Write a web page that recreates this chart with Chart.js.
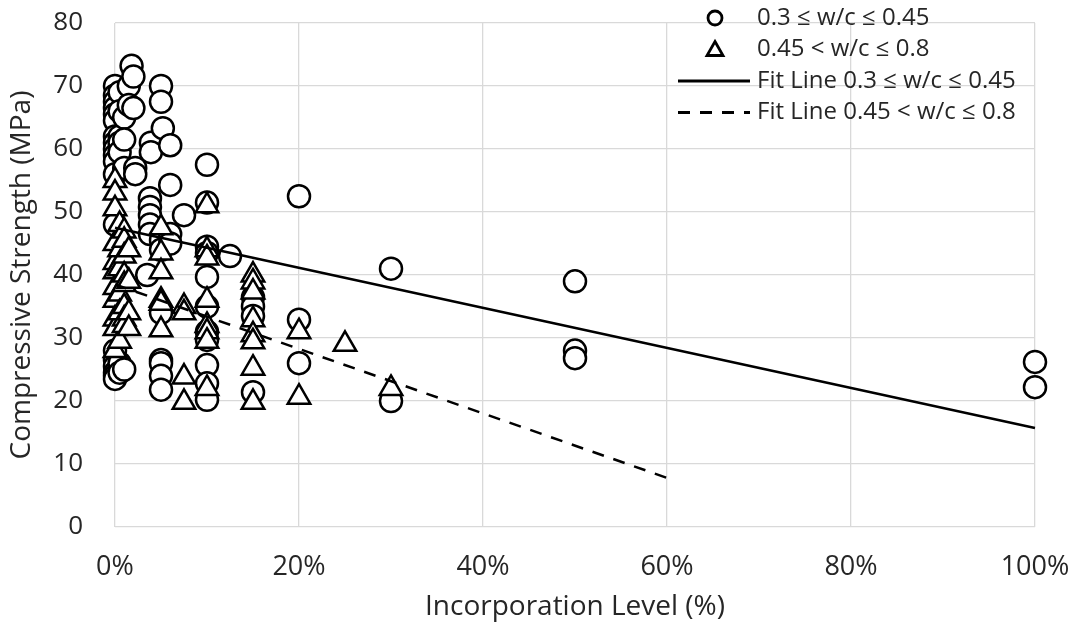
<!DOCTYPE html>
<html>
<head>
<meta charset="utf-8">
<script src="https://cdn.jsdelivr.net/npm/chart.js@4"></script>
<style>
  html, body { margin: 0; padding: 0; background: #fff; }
  #wrap { width: 1081px; height: 630px; }
</style>
</head>
<body>
<div id="wrap"><canvas id="chart"></canvas></div>
<script>
// circles: 0.3 <= w/c <= 0.45
const circleX = [
  0, 0, 0, 0, 0, 0, 0, 0, 0, 0, 0, 0, 0, 0, 0, 0, 0, 0, 0,
  0.5, 0.5, 0.5, 0.5, 0.5, 0.5, 0.5,
  1, 1, 1, 1,
  1.5, 1.5,
  1.8, 2, 2, 2.2, 2.2,
  3.9, 3.9, 3.8, 3.8, 3.8, 3.8, 3.8, 3.5,
  5, 5, 5.2, 5, 5, 5, 5, 5, 5, 5,
  6, 6, 6, 6,
  7.5,
  10, 10, 10, 10, 10, 10, 10, 10, 10, 10, 10,
  12.5,
  15, 15, 15, 15,
  20, 20, 20,
  30, 30,
  50, 50, 50,
  100, 100
];
const circleY = [
  70, 68.5, 67.5, 66.5, 65.5, 64.5, 62, 61, 60, 59, 58, 56, 48, 28, 26.5, 25.5, 24.5, 24, 23.5,
  69, 66, 62, 61, 59.5, 26, 24.5,
  65, 61.5, 57, 25,
  70, 67,
  73.2, 71.5, 66.5, 57, 56,
  61, 59.5, 52.2, 50.8, 49.5, 48, 46.5, 40,
  70, 67.5, 63.3, 45.5, 44, 34, 26.5, 26, 24, 21.8,
  60.6, 54.3, 46.5, 45,
  49.5,
  57.5, 51.5, 44.5, 43.5, 39.7, 35, 31, 29.7, 25.7, 22.8, 20.2,
  43,
  36.5, 35, 33.5, 21.4,
  52.5, 32.9, 26,
  41, 20,
  39, 28, 26.8,
  26.2, 22.2
];

// triangles: 0.45 < w/c <= 0.8
const triX = [
  0, 0, 0, 0, 0, 0, 0, 0, 0, 0, 0,
  0.5, 0.5, 0.5, 0.5, 0.5, 0.5,
  1, 1, 1, 1, 1, 1, 1, 1,
  1.5, 1.5, 1.5, 1.5,
  5, 5, 5, 5, 5, 5,
  7.5, 7.5, 7.5, 7.5,
  10, 10, 10, 10, 10, 10, 10, 10,
  15, 15, 15, 15, 15, 15, 15, 15,
  20, 20,
  25,
  30
];
const triY = [
  55, 53, 50.5, 45, 42, 40.5, 38, 36, 33, 31.5, 28,
  48, 44, 41, 37, 34, 29.5,
  47, 45.5, 43, 40, 38.5, 35, 33, 32,
  44, 39, 34, 31.5,
  47.5, 43.5, 40.5, 36, 35.5, 31.3,
  35, 34, 23.8, 19.8,
  51, 44, 42.7, 36, 32, 31, 29.5, 22,
  40, 38.9, 37.3, 32.9, 30.5, 29.4, 25.2, 19.8,
  31, 20.6,
  29,
  22
];

// fit lines
const fitLowX = [0, 100];
const fitLowY = [47.5, 15.7];
const fitHighX = [0, 60];
const fitHighY = [38.5, 7.8];

const xTicks = [0, 20, 40, 60, 80, 100];

const toPts = (xs, ys) => xs.map((x, i) => ({ x: x, y: ys[i] }));

const legendItems = [
  { label: '0.3 \u2264 w/c \u2264 0.45', kind: 'circle' },
  { label: '0.45 < w/c \u2264 0.8', kind: 'triangle' },
  { label: 'Fit Line 0.3 \u2264 w/c \u2264 0.45', kind: 'solid' },
  { label: 'Fit Line 0.45 < w/c \u2264 0.8', kind: 'dashed' }
];

// legend drawn by hand so it can sit over the top-right corner like the original
const legendPlugin = {
  id: 'cornerLegend',
  afterDraw(chart) {
    const ctx = chart.ctx;
    ctx.save();
    ctx.font = '24px "Open Sans"';
    ctx.textBaseline = 'middle';
    ctx.strokeStyle = '#000';
    legendItems.forEach((it, i) => {
      const y = 18 + i * 31.5;
      ctx.lineWidth = 2.8;
      ctx.setLineDash([]);
      if (it.kind === 'circle') {
        ctx.beginPath();
        ctx.arc(715, y, 7, 0, Math.PI * 2);
        ctx.fillStyle = '#fff';
        ctx.fill();
        ctx.stroke();
      } else if (it.kind === 'triangle') {
        ctx.beginPath();
        ctx.moveTo(715, y - 8);
        ctx.lineTo(723, y + 6);
        ctx.lineTo(707, y + 6);
        ctx.closePath();
        ctx.fillStyle = '#fff';
        ctx.fill();
        ctx.stroke();
      } else {
        if (it.kind === 'dashed') ctx.setLineDash([12, 10]);
        ctx.beginPath();
        ctx.moveTo(678, y);
        ctx.lineTo(750, y);
        ctx.stroke();
      }
      ctx.fillStyle = '#262626';
      ctx.fillText(it.label, 757, y);
    });
    ctx.restore();
  }
};

new Chart(document.getElementById('chart'), {
  type: 'scatter',
  data: {
    datasets: [
      {
        label: 'Fit Line 0.3 \u2264 w/c \u2264 0.45',
        data: toPts(fitLowX, fitLowY),
        showLine: true,
        borderColor: '#000',
        borderWidth: 2.5,
        pointRadius: 0,
        clip: false,
        order: 1
      },
      {
        label: 'Fit Line 0.45 < w/c \u2264 0.8',
        data: toPts(fitHighX, fitHighY),
        showLine: true,
        borderColor: '#000',
        borderWidth: 2.5,
        borderDash: [12, 10],
        pointRadius: 0,
        clip: false,
        order: 2
      },
      {
        label: '0.45 < w/c \u2264 0.8',
        data: toPts(triX, triY),
        pointStyle: 'triangle',
        pointRadius: 13,
        pointBorderWidth: 2.5,
        pointBackgroundColor: '#fff',
        pointBorderColor: '#000',
        clip: false,
        order: 3
      },
      {
        label: '0.3 \u2264 w/c \u2264 0.45',
        data: toPts(circleX, circleY),
        pointStyle: 'circle',
        pointRadius: 11,
        pointBorderWidth: 2.5,
        pointBackgroundColor: '#fff',
        pointBorderColor: '#000',
        clip: false,
        order: 4
      }
    ]
  },
  options: {
    responsive: true,
    maintainAspectRatio: false,
    animation: false,
    layout: { padding: { top: 23, right: 46, left: 0, bottom: 0 } },
    plugins: {
      legend: { display: false },
      tooltip: { enabled: false }
    },
    scales: {
      x: {
        type: 'linear',
        min: 0,
        max: 100,
        afterBuildTicks: axis => { axis.ticks = xTicks.map(v => ({ value: v })); },
        afterFit: axis => {
          axis.height = 103;
          axis.paddingLeft = 0;
          axis.paddingRight = 0;
        },
        grid: { color: '#d9d9d9', lineWidth: 1.3, drawTicks: false },
        border: { display: false },
        ticks: {
          padding: 24,
          color: '#262626',
          font: { family: 'Open Sans', size: 27 },
          callback: v => v + '%'
        },
        title: {
          display: true,
          text: 'Incorporation Level (%)',
          color: '#262626',
          font: { family: 'Open Sans', size: 28 },
          padding: { top: 0, bottom: 6 }
        }
      },
      y: {
        min: 0,
        max: 80,
        afterFit: axis => {
          axis.width = 115;
          axis.paddingTop = 0;
          axis.paddingBottom = 0;
        },
        grid: { color: '#d9d9d9', lineWidth: 1.3, drawTicks: false },
        border: { display: false },
        ticks: {
          stepSize: 10,
          padding: 32,
          color: '#262626',
          font: { family: 'Open Sans', size: 26 }
        },
        title: {
          display: true,
          text: 'Compressive Strength (MPa)',
          color: '#262626',
          font: { family: 'Open Sans', size: 28 },
          padding: { top: 5, bottom: 0 }
        }
      }
    }
  },
  plugins: [legendPlugin]
});
</script>
</body>
</html>
